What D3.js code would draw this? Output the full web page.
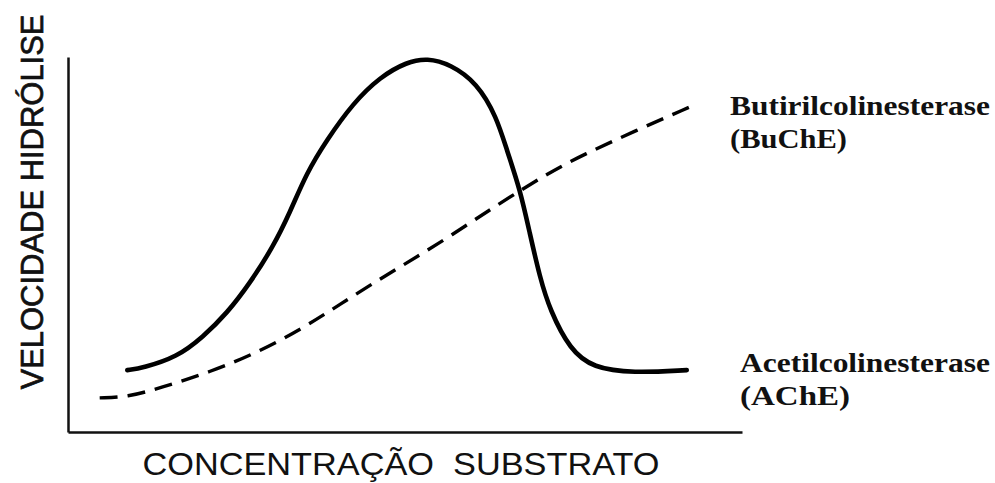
<!DOCTYPE html>
<html>
<head>
<meta charset="utf-8">
<script src="https://cdn.jsdelivr.net/npm/d3@7"></script>
<style>
  body { margin: 0; background: #fff; }
  svg { display: block; }
</style>
</head>
<body>
<div id="container"></div>
<script>
/* DATA */
// substrate concentration (arbitrary units 0-100) and hydrolysis velocity (0-100)
const acheX = [8.8, 11.1, 16.2, 20.0, 23.6, 27.0, 30.4, 32.9, 35.4, 38.4, 42.3, 46.3, 50.3, 53.3, 56.7, 60.7, 63.6, 65.1, 67.1, 68.5, 70.0, 71.5, 74.5, 77.9, 83.8, 91.8]
const acheY = [16.5, 17.1, 20.0, 25.3, 31.7, 39.7, 49.3, 58.4, 69.1, 77.9, 87.7, 94.7, 98.7, 99.7, 98.1, 93.1, 84.0, 75.2, 64.5, 53.1, 41.3, 32.5, 21.9, 17.1, 15.7, 16.5]

const bucheX = [4.7, 8.8, 13.6, 21.1, 28.0, 34.9, 40.4, 46.7, 55.2, 63.6, 71.5, 76.4, 84.4, 92.3]
const bucheY = [9.1, 9.3, 11.7, 16.0, 21.1, 27.7, 34.1, 41.3, 50.4, 60.5, 69.3, 73.9, 80.5, 86.7]

const xTitle = "CONCENTRAÇÃO  SUBSTRATO"
const yTitle = "VELOCIDADE HIDRÓLISE"
const bucheLabel = ["Butirilcolinesterase", "(BuChE)"]
const acheLabel = ["Acetilcolinesterase", "(AChE)"]

/* SVG */
const width = 995, height = 483

const svg = d3.select("#container")
  .append("svg")
    .attr("width", width)
    .attr("height", height)

// SCALES
const xScale = d3.scaleLinear().domain([0, 100]).range([68, 742])
const yScale = d3.scaleLinear().domain([0, 100]).range([432, 57])

// AXES (plain lines, no ticks)
svg.append("g")
  .attr("transform", "translate(0," + yScale(0) + ")")
  .call(d3.axisBottom(xScale).tickValues([]).tickSizeOuter(0))
  .select(".domain").attr("stroke", "#111").attr("stroke-width", 2.5)

svg.append("g")
  .attr("transform", "translate(" + xScale(0) + ",0)")
  .call(d3.axisLeft(yScale).tickValues([]).tickSizeOuter(0))
  .select(".domain").attr("stroke", "#111").attr("stroke-width", 2.5)

// LINES
const line = d3.line()
  .x(d => xScale(d[0]))
  .y(d => yScale(d[1]))
  .curve(d3.curveBasis)

svg.append("path")
  .datum(d3.zip(bucheX, bucheY))
  .attr("fill", "none")
  .attr("stroke", "#000")
  .attr("stroke-width", 3.4)
  .attr("stroke-dasharray", "18,10")
  .attr("d", line)

svg.append("path")
  .datum(d3.zip(acheX, acheY))
  .attr("fill", "none")
  .attr("stroke", "#000")
  .attr("stroke-width", 4.6)
  .attr("stroke-linecap", "round")
  .attr("d", line)

// AXIS TITLES
svg.append("text")
  .attr("x", 401).attr("y", 475)
  .attr("text-anchor", "middle")
  .attr("font-family", "Liberation Sans, Arial, sans-serif")
  .attr("font-size", 31)
  .attr("textLength", 517)
  .attr("lengthAdjust", "spacingAndGlyphs")
  .attr("fill", "#111")
  .style("white-space", "pre")
  .text(xTitle)

svg.append("text")
  .attr("transform", "translate(43,202) rotate(-90)")
  .attr("text-anchor", "middle")
  .attr("font-family", "Liberation Sans, Arial, sans-serif")
  .attr("font-size", 32)
  .attr("textLength", 375)
  .attr("lengthAdjust", "spacingAndGlyphs")
  .attr("fill", "#111")
  .attr("stroke", "#111")
  .attr("stroke-width", 0.7)
  .text(yTitle)

// SERIES LABELS
function label(lines, widths, x, y) {
  lines.forEach((s, i) => {
    svg.append("text")
      .attr("x", x).attr("y", y + i * 33)
      .attr("font-family", "Liberation Serif, Times New Roman, serif")
      .attr("font-weight", "bold")
      .attr("font-size", 28)
      .attr("textLength", widths[i])
      .attr("lengthAdjust", "spacingAndGlyphs")
      .attr("fill", "#111")
      .text(s)
  })
}
label(bucheLabel, [260, 117], 730, 115)
label(acheLabel, [250, 110], 740, 372)
</script>
</body>
</html>
